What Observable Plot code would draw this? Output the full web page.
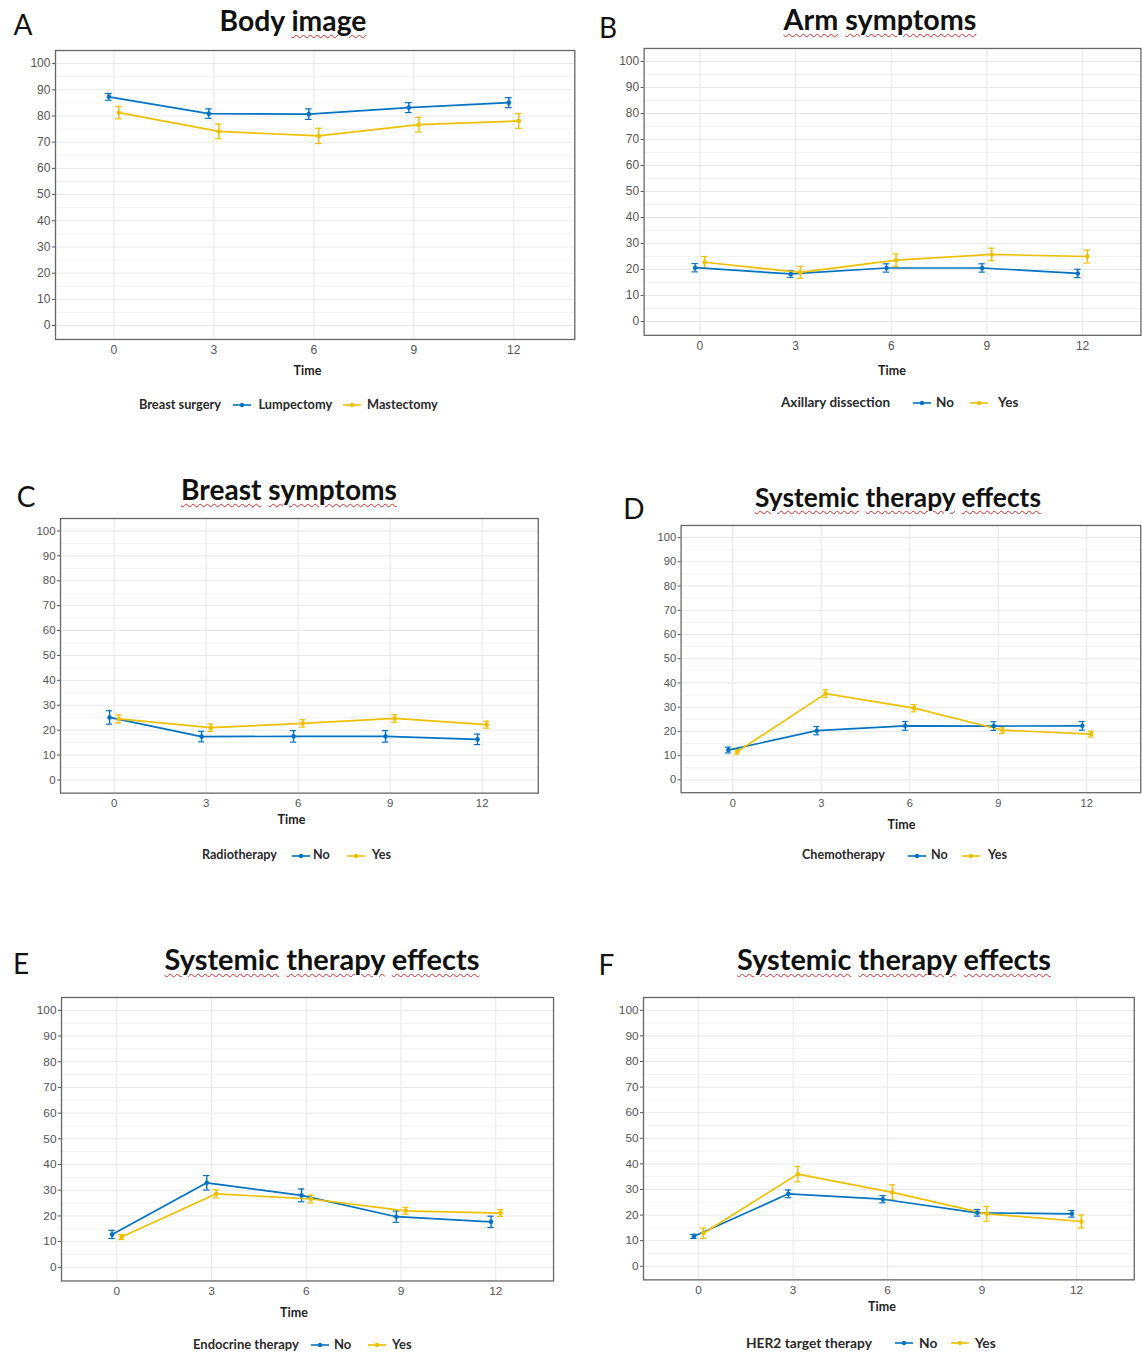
<!DOCTYPE html>
<html><head><meta charset="utf-8">
<script src="https://cdn.jsdelivr.net/npm/d3@7"></script>
<script src="https://cdn.jsdelivr.net/npm/@observablehq/plot@0.6"></script>
<style>
body{margin:0;background:#fff;}
#wrap{position:relative;width:1142px;height:1354px;overflow:hidden;background:#fff;font-family:Lato,"Open Sans","Liberation Sans",sans-serif;}
.abs{position:absolute;white-space:nowrap;line-height:1;}
.letter{font-weight:400;color:#111;}
.title{font-weight:700;color:#111;}
.sq{text-decoration-line:underline;text-decoration-style:wavy;text-decoration-color:#e0282a;text-decoration-thickness:1px;text-underline-offset:3px;}
.time{font-weight:700;color:#222;}
.leg{font-weight:700;color:#2a2a2a;}
.plotbox{position:absolute;}
</style>
</head><body>
<div id="wrap"></div>
<script>
// ---------- data ----------
const timePoints = [0, 3, 6, 9, 12];
const yTicks = [0, 10, 20, 30, 40, 50, 60, 70, 80, 90, 100];
const yMinor = [5, 15, 25, 35, 45, 55, 65, 75, 85, 95];
const panelLetters = ["A", "B", "C", "D", "E", "F"];
const panelTitles = ["Body image", "Arm symptoms", "Breast symptoms", "Systemic therapy effects", "Systemic therapy effects", "Systemic therapy effects"];
const flaggedWords = ["image", "Arm", "symptoms", "Breast", "Systemic", "therapy", "effects"];
const axisLabel = "Time";
const legendTitles = ["Breast surgery", "Axillary dissection", "Radiotherapy", "Chemotherapy", "Endocrine therapy", "HER2 target therapy"];
const groupLabels = [["Lumpectomy", "Mastectomy"], ["No", "Yes"], ["No", "Yes"], ["No", "Yes"], ["No", "Yes"], ["No", "Yes"]];
const seriesColors = ["#0073C2", "#EFC000"];

// A: Body image
const bodyLumpMean = [87.3, 80.9, 80.7, 83.2, 85.1];
const bodyLumpErr  = [1.3, 1.8, 2.0, 1.9, 1.9];
const bodyMastMean = [81.3, 74.1, 72.4, 76.7, 78.1];
const bodyMastErr  = [2.4, 2.8, 2.9, 2.8, 2.8];
// B: Arm symptoms
const armNoMean  = [20.7, 18.3, 20.6, 20.6, 18.5];
const armNoErr   = [1.6, 1.3, 1.6, 1.6, 1.6];
const armYesMean = [22.8, 18.9, 23.6, 25.8, 25.0];
const armYesErr  = [2.2, 2.3, 2.4, 2.4, 2.5];
// C: Breast symptoms
const breastNoMean  = [25.1, 17.4, 17.5, 17.5, 16.3];
const breastNoErr   = [2.7, 2.1, 2.3, 2.3, 2.1];
const breastYesMean = [24.5, 21.0, 22.7, 24.7, 22.2];
const breastYesErr  = [1.6, 1.5, 1.5, 1.5, 1.4];
// D: Systemic therapy effects by chemotherapy
const chemoNoMean  = [12.3, 20.3, 22.3, 22.2, 22.3];
const chemoNoErr   = [1.2, 1.7, 1.8, 1.8, 1.8];
const chemoYesMean = [11.6, 35.6, 29.6, 20.5, 18.9];
const chemoYesErr  = [1.0, 1.6, 1.5, 1.3, 1.2];
// E: Systemic therapy effects by endocrine therapy
const endoNoMean  = [12.8, 32.9, 28.0, 19.7, 17.7];
const endoNoErr   = [1.6, 2.8, 2.5, 2.2, 2.2];
const endoYesMean = [11.8, 28.6, 26.6, 22.0, 21.1];
const endoYesErr  = [1.0, 1.6, 1.5, 1.3, 1.3];
// F: Systemic therapy effects by HER2 target therapy
const her2NoMean  = [11.7, 28.3, 26.2, 20.9, 20.5];
const her2NoErr   = [0.8, 1.5, 1.4, 1.3, 1.3];
const her2YesMean = [12.9, 36.0, 28.9, 20.5, 17.5];
const her2YesErr  = [2.0, 3.0, 2.9, 2.9, 2.5];

const seriesData = [
  [[bodyLumpMean, bodyLumpErr], [bodyMastMean, bodyMastErr]],
  [[armNoMean, armNoErr], [armYesMean, armYesErr]],
  [[breastNoMean, breastNoErr], [breastYesMean, breastYesErr]],
  [[chemoNoMean, chemoNoErr], [chemoYesMean, chemoYesErr]],
  [[endoNoMean, endoNoErr], [endoYesMean, endoYesErr]],
  [[her2NoMean, her2NoErr], [her2YesMean, her2YesErr]]
];

// ---------- layout (pixel positions of each panel) ----------
const xDomain = [-1.75, 13.83];
const yDomain = [-5.3, 105];
const dodge = [-0.15, 0.15];
const capHalf = 0.1;
const layout = [
  {x0:113, x12:513,  y100:63,   y0:325,  letter:[23,25],     title:[293,21.5,147],  time:[307.5,371.5], leg:[139,233,258.5,342.5,367,405], legW:82},
  {x0:700, x12:1087, y100:61,   y0:324,  letter:[608,28],    title:[880,20.5,193],  time:[892,372],     leg:[781,913,936,970,998,403],    legW:109},
  {x0:114, x12:482,  y100:530,  y0:779,  letter:[26,496.5],  title:[289,490,216],   time:[291.5,820.5], leg:[202,292,313,347,372,855.5],  legW:75},
  {x0:733, x12:1091, y100:537,  y0:782,  letter:[634,508.5], title:[898,497.5,286], time:[901.5,826],   leg:[802,908,931,962,988,856],    legW:83},
  {x0:116, x12:495,  y100:1010, y0:1267, letter:[21,963.5],  title:[322,959,315],   time:[294,1314],    leg:[193,311,334,368,392,1345],   legW:106},
  {x0:698, x12:1076, y100:1010, y0:1266, letter:[606.5,965], title:[894,960.5,314], time:[882,1308],    leg:[746,895,919,951,975,1343],   legW:126}
];

const wrap = document.getElementById("wrap");
const CAP = 0.53;

function makeText(html, cls) {
  const el = document.createElement("div");
  el.className = "abs " + cls;
  el.innerHTML = html;
  wrap.appendChild(el);
  return el;
}
function fitSize(el, target) {
  el.style.fontSize = "100px";
  const w = el.getBoundingClientRect().width;
  return 100 * target / w;
}
function place(el, x, cy, size, center) {
  el.style.fontSize = size + "px";
  el.style.top = (cy - CAP * size) + "px";
  el.style.left = x + "px";
  if (center) el.style.transform = "translateX(-50%)";
}

function panelPlot(i) {
  const L = layout[i];
  const ppx = (L.x12 - L.x0) / 12, ppy = (L.y0 - L.y100) / 100;
  const fl = L.x0 + xDomain[0] * ppx, fr = L.x0 + xDomain[1] * ppx;
  const ft = L.y100 - (yDomain[1] - 100) * ppy, fb = L.y0 - yDomain[0] * ppy;
  const mL = 36, mR = 2, mT = 2, mB = 24;
  const rows = [];
  groupLabels[i].forEach((g, gi) => {
    const [m, e] = seriesData[i][gi];
    timePoints.forEach((t, k) => rows.push({g, t, tx: t + dodge[gi], mean: m[k], lo: m[k] - e[k], hi: m[k] + e[k]}));
  });
  const fs = Math.max(10.5, Math.min(12.5, ppy * 4.6));
  const svg = Plot.plot({
    width: (fr - fl) + mL + mR,
    height: (fb - ft) + mT + mB,
    marginLeft: mL, marginRight: mR, marginTop: mT, marginBottom: mB,
    x: {domain: xDomain},
    y: {domain: yDomain},
    color: {domain: groupLabels[i], range: seriesColors},
    style: {fontFamily: "'Liberation Sans',Arial,sans-serif", fontSize: fs + "px", color: "#555", background: "transparent", overflow: "visible"},
    marks: [
      Plot.ruleY(yMinor, {stroke: "#f2f2f2", strokeWidth: 1}),
      Plot.ruleY(yTicks, {stroke: "#e8e8e8", strokeWidth: 1}),
      Plot.ruleX(timePoints, {stroke: "#e8e8e8", strokeWidth: 1}),
      Plot.axisY({ticks: yTicks, tickSize: 3, tickPadding: 2, label: null}),
      Plot.axisX({ticks: timePoints, tickSize: 0, tickPadding: 6, label: null}),
      Plot.ruleX(rows, {x: "tx", y1: "lo", y2: "hi", stroke: "g", strokeWidth: 1.4}),
      Plot.ruleY(rows, {y: "lo", x1: d => d.tx - capHalf, x2: d => d.tx + capHalf, stroke: "g", strokeWidth: 1.2}),
      Plot.ruleY(rows, {y: "hi", x1: d => d.tx - capHalf, x2: d => d.tx + capHalf, stroke: "g", strokeWidth: 1.2}),
      Plot.line(rows, {x: "tx", y: "mean", stroke: "g", z: "g", strokeWidth: 1.7}),
      Plot.dot(rows, {x: "tx", y: "mean", fill: "g", r: 2.3}),
      Plot.frame({stroke: "#666", strokeWidth: 1.3})
    ]
  });
  const box = document.createElement("div");
  box.className = "plotbox";
  box.style.left = (fl - mL) + "px";
  box.style.top = (ft - mT) + "px";
  box.appendChild(svg);
  wrap.appendChild(box);
}

function keySvg(color) {
  return `<svg width="18" height="8" style="display:block"><line x1="0" x2="18" y1="4" y2="4" stroke="${color}" stroke-width="1.6"/><circle cx="9" cy="4" r="2.2" fill="${color}"/></svg>`;
}

panelTitles.forEach((title, i) => {
  const L = layout[i];
  panelPlot(i);
  // letter
  const le = makeText(panelLetters[i], "letter");
  place(le, L.letter[0], L.letter[1], 28, true);
  // title with spell-check squiggles
  const html = title.split(" ").map(w => flaggedWords.includes(w) ? `<span class="sq">${w}</span>` : w).join(" ");
  const te = makeText(html, "title");
  const ts = fitSize(te, L.title[2]);
  place(te, L.title[0], L.title[1], ts, true);
  // axis label
  const tm = makeText(axisLabel, "time");
  place(tm, L.time[0], L.time[1], 12.5, true);
  // legend
  const lt = makeText(legendTitles[i], "leg");
  const ls = fitSize(lt, L.legW);
  place(lt, L.leg[0], L.leg[5], ls, false);
  groupLabels[i].forEach((g, gi) => {
    const k = document.createElement("div");
    k.className = "abs";
    k.innerHTML = keySvg(seriesColors[gi]);
    k.style.left = L.leg[1 + gi * 2] + "px";
    k.style.top = (L.leg[5] - 4) + "px";
    wrap.appendChild(k);
    const lb = makeText(g, "leg");
    place(lb, L.leg[2 + gi * 2], L.leg[5], ls, false);
  });
});
</script>
</body></html>
